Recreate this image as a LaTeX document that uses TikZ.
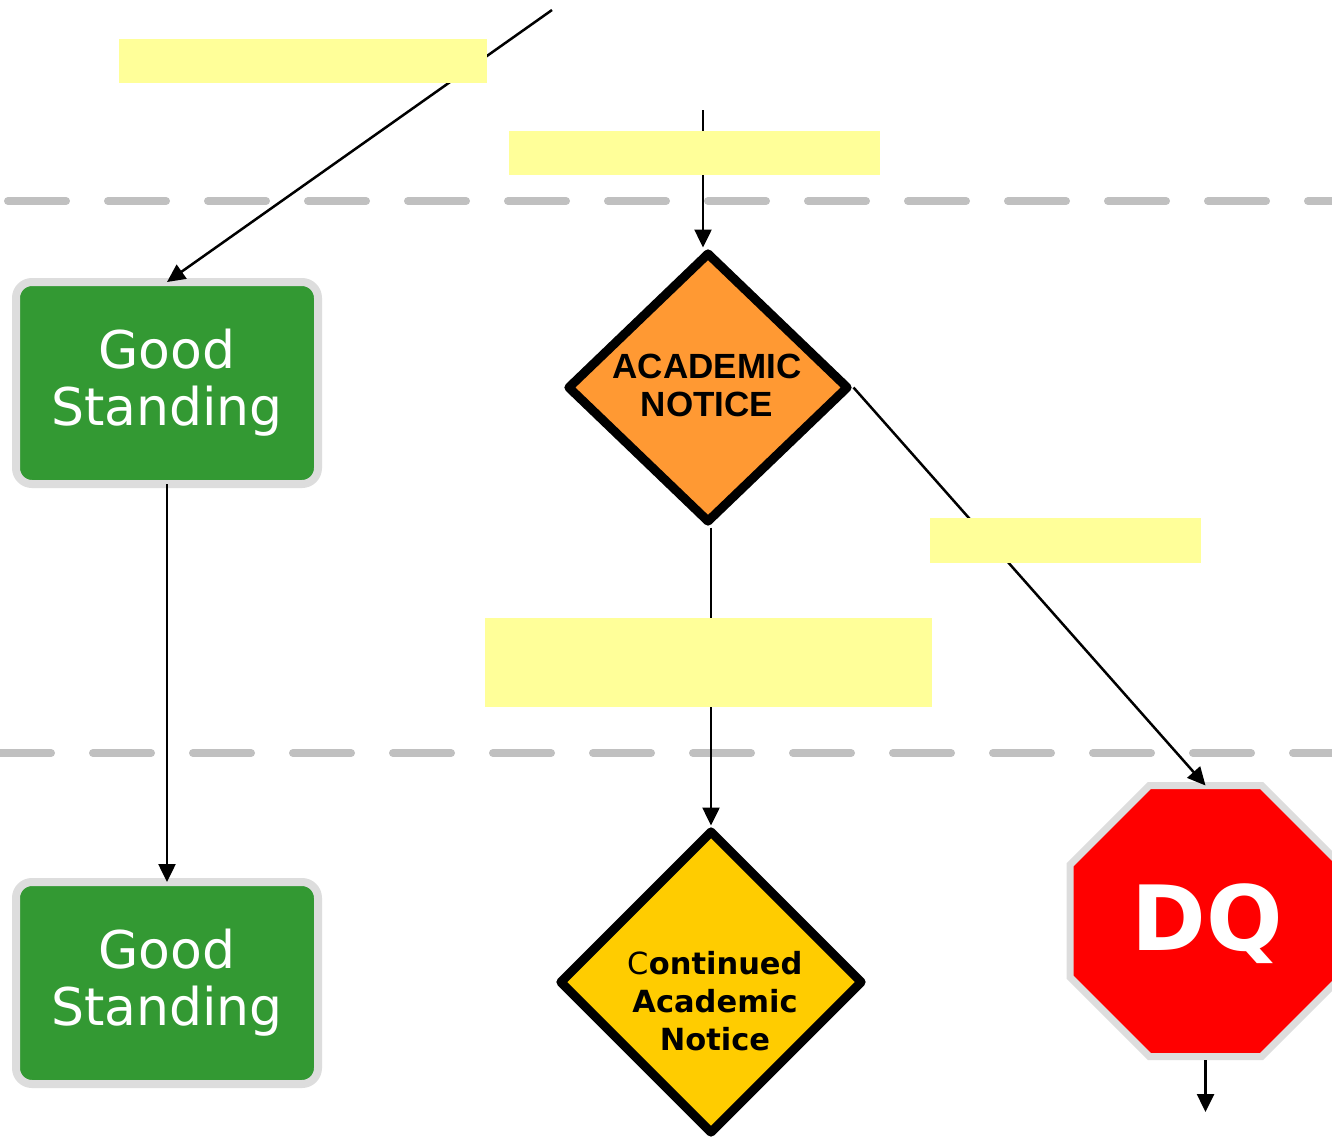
\documentclass[tikz,border=0pt]{standalone}
\usepackage{fontspec}
\usetikzlibrary{shapes.geometric,arrows.meta}
\newfontfamily\verd{DejaVu Sans}
\newfontfamily\arialf{Liberation Sans}
\definecolor{gsgreen}{HTML}{339933}
\definecolor{bordergray}{HTML}{DDDDDD}
\definecolor{dashgray}{HTML}{C0C0C0}
\definecolor{anorange}{HTML}{FF9933}
\definecolor{canyellow}{HTML}{FFCC00}
\definecolor{paleyellow}{HTML}{FFFF99}
\definecolor{dqred}{HTML}{FF0000}
\tikzset{
  sepline/.style={draw=dashgray, line width=8pt, line cap=round, dash pattern=on 58pt off 42pt},
  gsbox/.style={draw=bordergray, line width=8pt, fill=gsgreen, rounded corners=16pt,
    minimum width=302pt, minimum height=202pt, inner sep=0pt, outer sep=0pt,
    text=white, align=center, font=\verd\fontsize{52}{57}\selectfont},
  signdiamond/.style={diamond, draw=black, line width=9pt, line join=round,
    inner sep=0pt, outer sep=4.5pt},
  antext/.style={align=center, inner sep=0pt, font=\arialf\bfseries\fontsize{35}{38}\selectfont},
  cantext/.style={align=center, inner sep=0pt, font=\verd\bfseries\fontsize{30.5}{38}\selectfont},
  dqshape/.style={regular polygon, regular polygon sides=8, minimum size=293.3pt,
    fill=dqred, draw=bordergray, line width=7pt, inner sep=0pt, outer sep=0pt},
  dqtext/.style={inner sep=0pt, text=white, font=\verd\bfseries\fontsize{90}{90}\selectfont},
  conn/.style={draw=black, line width=2.5pt, -{Triangle[length=18pt,width=17pt]}},
  notebox/.style={fill=paleyellow}
}
\begin{document}
\begin{tikzpicture}[x=1pt,y=-1pt]
\useasboundingbox (0,0) rectangle (1332,1138);
\clip (0,0) rectangle (1332,1138);
\fill[white] (0,0) rectangle (1332,1138);
% separator lines
\draw[sepline] (8,201) -- (1400,201);
\draw[sepline] (-7,753) -- (1400,753);
% nodes
\node[gsbox] (gs1) at (167,383) {Good\\Standing};
\node[gsbox] (gs2) at (167,983) {Good\\Standing};
\node[signdiamond, fill=anorange, minimum width=282pt, minimum height=271pt] (an) at (708,387.5) {};
\node[antext] (antxt) at (707,385) {ACADEMIC\\NOTICE};
\node[signdiamond, fill=canyellow, minimum width=304pt, minimum height=304pt] (can) at (711,982) {};
\node[cantext] (cantxt) at (715,1001) {{\mdseries C}ontinued\\Academic\\Notice};
\node[dqshape] (dq) at (1205.5,921) {};
\node[dqtext, anchor=base] (dqtxt) at (1207,950) {DQ};
% connectors
\coordinate (s1) at (552,10);
\coordinate (s3) at (703,110);
\coordinate (e6) at (1206,1112);
\draw[conn] (s1) -- (gs1.north);
\draw[conn] (gs1.south) -- (gs2.north);
\draw[conn] (s3) -- (s3 |- an.north);
\draw[conn] (an.east) -- (dq.north);
\draw[conn] (can.north |- an.south) -- (can.north);
\draw[conn, shorten <=3.5pt] (dq.south) -- (dq.south |- e6);
% note boxes
\fill[notebox] (119,39) rectangle (487,83);
\fill[notebox] (509,131) rectangle (880,175);
\fill[notebox] (930,518) rectangle (1201,563);
\fill[notebox] (485,618) rectangle (932,707);
\end{tikzpicture}
\end{document}
